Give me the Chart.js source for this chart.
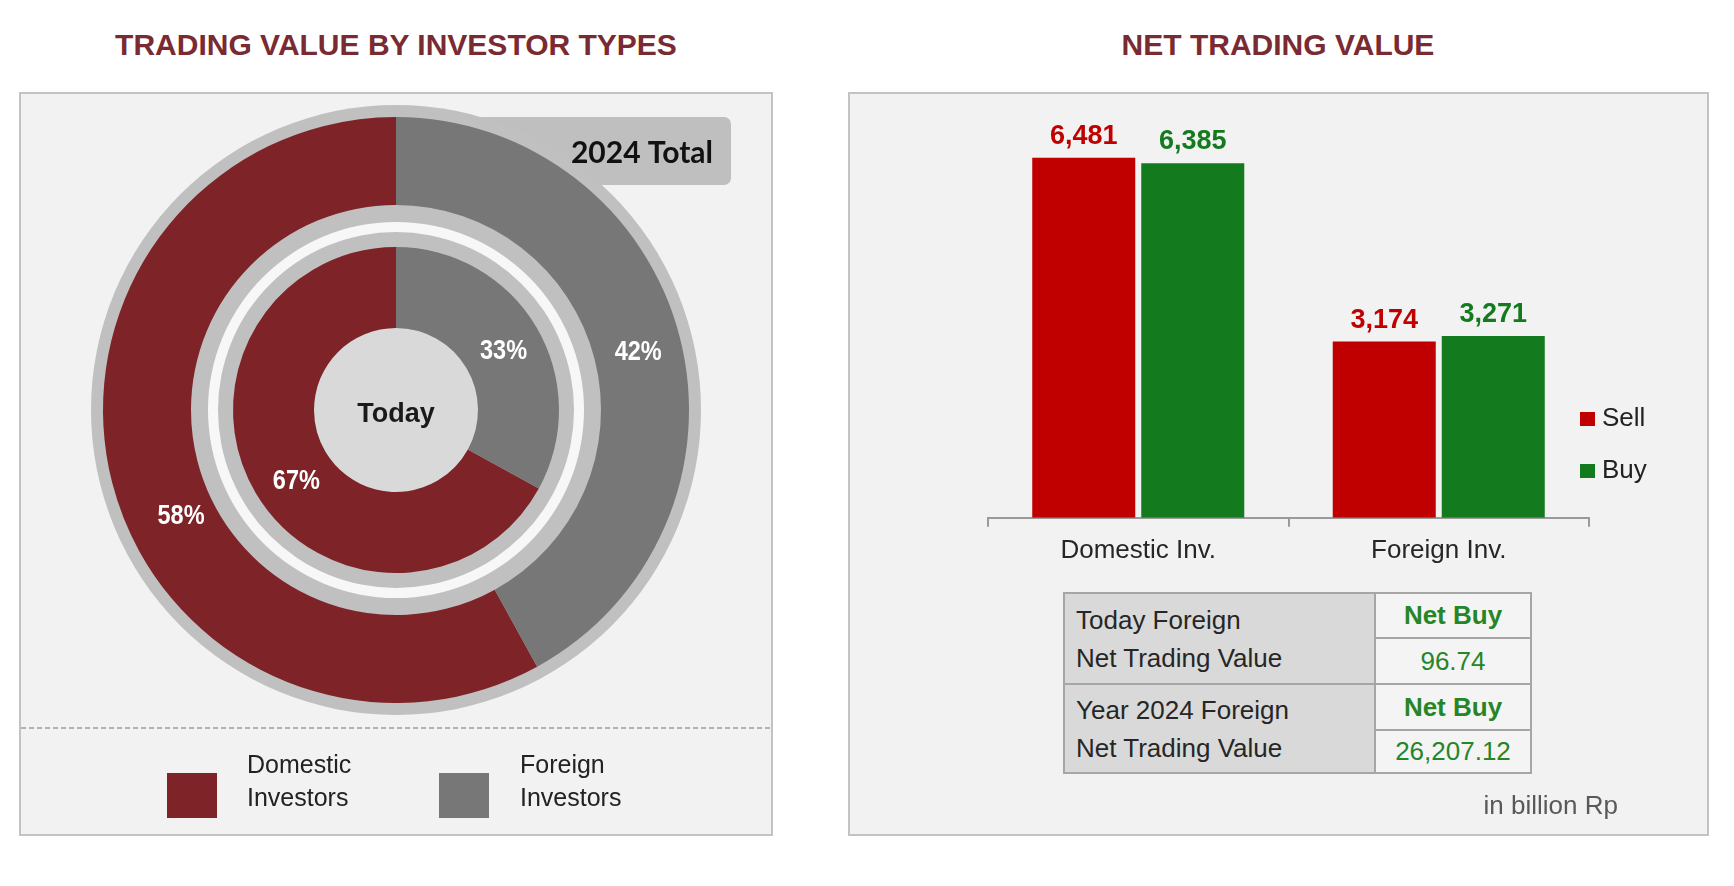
<!DOCTYPE html>
<html>
<head>
<meta charset="utf-8">
<title>Trading value</title>
<script src="https://cdn.jsdelivr.net/npm/chart.js"></script>
<style>
  body { margin: 0; background: #fff; font-family: "Liberation Sans", Arial, sans-serif; }
  #page { position: relative; width: 1734px; height: 886px; overflow: hidden; }
  .title { position: absolute; top: 27px; width: 600px; text-align: center; font-weight: bold;
           font-size: 30px; line-height: 36px; color: #7a2a31; }
  .panel { position: absolute; top: 92px; height: 744px; box-sizing: border-box;
           border: 2px solid #c3c3c3; background: #f2f2f2; }
  canvas { position: absolute; top: 92px; }
  .dash { position: absolute; left: 21px; top: 727px; width: 750px; height: 2px;
          background: repeating-linear-gradient(90deg, #b3b3b3 0 5px, transparent 5px 8px); }
  .sw { position: absolute; }
  .lg { position: absolute; font-size: 25px; line-height: 33px; color: #222; }
  .lg2 { position: absolute; font-size: 26px; line-height: 30px; color: #222; }
  #tbl { position: absolute; left: 1063px; top: 592px; width: 469px; height: 182px; background: #a6a6a6; }
  #tbl div { position: absolute; display: flex; align-items: center; box-sizing: border-box; font-size: 26px; }
  .lc { background: #d9d9d9; color: #262626; padding-left: 11px; line-height: 38px; }
  .rc { background: #f4f4f4; color: #268526; justify-content: center; }
  .unit { position: absolute; left: 1418px; top: 790px; width: 200px; text-align: right;
          font-size: 26px; line-height: 30px; color: #595959; }
</style>
</head>
<body>
<div id="page">
  <div class="title" style="left:96px">TRADING VALUE BY INVESTOR TYPES</div>
  <div class="title" style="left:978px">NET TRADING VALUE</div>

  <div class="panel" style="left:19px; width:754px"></div>
  <div class="panel" style="left:848px; width:861px"></div>

  <canvas id="donut" width="754" height="744" style="left:19px"></canvas>
  <canvas id="bars" width="861" height="744" style="left:848px"></canvas>

  <div class="dash"></div>
  <div class="sw" id="sw0" style="left:167px; top:773px; width:50px; height:45px"></div>
  <div class="lg" id="lg0" style="left:247px; top:748px"></div>
  <div class="sw" id="sw1" style="left:439px; top:773px; width:50px; height:45px"></div>
  <div class="lg" id="lg1" style="left:520px; top:748px"></div>

  <div class="sw" id="sw2" style="left:1580px; top:412px; width:15px; height:14px"></div>
  <div class="lg2" id="lg2" style="left:1602px; top:402px"></div>
  <div class="sw" id="sw3" style="left:1580px; top:464px; width:15px; height:14px"></div>
  <div class="lg2" id="lg3" style="left:1602px; top:454px"></div>

  <div id="tbl">
    <div class="lc" id="t0" style="left:2px; top:2px; width:309px; height:89px"></div>
    <div class="rc" id="t1" style="left:313px; top:2px; width:154px; height:43px; font-weight:bold"></div>
    <div class="rc" id="t2" style="left:313px; top:47px; width:154px; height:44px"></div>
    <div class="lc" id="t3" style="left:2px; top:93px; width:309px; height:87px"></div>
    <div class="rc" id="t4" style="left:313px; top:93px; width:154px; height:44px; font-weight:bold"></div>
    <div class="rc" id="t5" style="left:313px; top:139px; width:154px; height:41px"></div>
  </div>
  <div class="unit">in billion Rp</div>
</div>

<script>
// investor split, share of trading value in %
const investorTypes = ['Domestic Investors', 'Foreign Investors'];
const yearShare = [58, 42];   // outer ring, 2024 total
const todayShare = [67, 33];  // inner ring, today

// net trading value, billion Rp
const flowCategories = ['Domestic Inv.', 'Foreign Inv.'];
const flowSeries = ['Sell', 'Buy'];
const sellValues = [6481, 3174];
const buyValues = [6385, 3271];

// foreign net summary table
const summaryLabels = ['Today Foreign<br>Net Trading Value', 'Year 2024 Foreign<br>Net Trading Value'];
const summaryStatus = ['Net Buy', 'Net Buy'];
const summaryValues = ['96.74', '26,207.12'];

const investorColors = ['#7e2327', '#777777'];
const flowColors = ['#c00000', '#137a1e'];

Chart.defaults.font.family = '"Liberation Sans", Arial, sans-serif';
Chart.defaults.color = '#262626';

// html legends + table
document.getElementById('sw0').style.background = investorColors[0];
document.getElementById('sw1').style.background = investorColors[1];
document.getElementById('lg0').innerHTML = investorTypes[0].replace(' ', '<br>');
document.getElementById('lg1').innerHTML = investorTypes[1].replace(' ', '<br>');
document.getElementById('sw2').style.background = flowColors[0];
document.getElementById('sw3').style.background = flowColors[1];
document.getElementById('lg2').textContent = flowSeries[0];
document.getElementById('lg3').textContent = flowSeries[1];
document.getElementById('t0').innerHTML = summaryLabels[0];
document.getElementById('t1').textContent = summaryStatus[0];
document.getElementById('t2').textContent = summaryValues[0];
document.getElementById('t3').innerHTML = summaryLabels[1];
document.getElementById('t4').textContent = summaryStatus[1];
document.getElementById('t5').textContent = summaryValues[1];

function total(arr) { return arr.reduce((a, b) => a + b, 0); }

function disc(c, x, y, r, color) {
    c.beginPath();
    c.arc(x, y, r, 0, Math.PI * 2);
    c.fillStyle = color;
    c.fill();
}

// label nudges (degrees along the ring, px inward), excel puts them a bit off-centre
const labelShift = { 0: [[-12, 9], [1, 0]], 2: [[-5, 0], [2, 0]] };

// shadow ring, band between the rings, centre disc, badge and labels
const ringDecor = {
    id: 'ringDecor',
    beforeDatasetsDraw(chart) {
        const c = chart.ctx;
        const outer = chart.getDatasetMeta(0).data[0];
        const gap = chart.getDatasetMeta(1).data[0];
        const inner = chart.getDatasetMeta(2).data[0];
        c.save();
        c.fillStyle = '#bfbfbf';
        c.beginPath();
        c.roundRect(451, 25, 261, 68, 7);
        c.fill();
        disc(c, outer.x, outer.y, outer.outerRadius + 12, '#c0c0c0');
        disc(c, outer.x, outer.y, gap.innerRadius + 25, '#f7f7f7');
        disc(c, outer.x, outer.y, gap.innerRadius + 15, '#c0c0c0');
        disc(c, outer.x, outer.y, inner.innerRadius, '#d9d9d9');
        c.restore();
    },
    afterDatasetsDraw(chart) {
        const c = chart.ctx;
        c.save();
        c.textAlign = 'center';
        c.textBaseline = 'middle';
        c.fillStyle = '#ffffff';
        c.font = 'bold 28px "Liberation Sans", Arial, sans-serif';
        [0, 2].forEach(i => {
            const ds = chart.data.datasets[i];
            chart.getDatasetMeta(i).data.forEach((arc, j) => {
                const sh = labelShift[i][j];
                const a = (arc.startAngle + arc.endAngle) / 2 + sh[0] * Math.PI / 180;
                const r = (arc.innerRadius + arc.outerRadius) / 2 - sh[1];
                c.save();
                c.translate(arc.x + Math.cos(a) * r, arc.y + Math.sin(a) * r);
                c.scale(0.84, 1);  // narrow face
                c.fillText(Math.round(ds.data[j] / total(ds.data) * 100) + '%', 0, 0);
                c.restore();
            });
        });
        const ctr = chart.getDatasetMeta(0).data[0];
        c.fillStyle = '#1a1a1a';
        c.textBaseline = 'alphabetic';
        c.font = 'bold 27px "Liberation Sans", Arial, sans-serif';
        c.fillText(chart.data.datasets[2].label, ctr.x, ctr.y + 12);
        c.textAlign = 'right';
        c.fillStyle = '#111';
        c.font = 'bold 30px Lato, "Liberation Sans", sans-serif';
        c.fillText(chart.data.datasets[0].label, 694, 71);
        c.restore();
    }
};

new Chart(document.getElementById('donut'), {
    type: 'doughnut',
    data: {
        labels: investorTypes,
        datasets: [
            {
                label: '2024 Total',
                data: yearShare,
                backgroundColor: investorColors,
                borderWidth: 0,
                weight: 88,
                rotation: -360 * yearShare[0] / total(yearShare)
            },
            {
                label: '',
                data: [1],
                backgroundColor: 'rgba(0,0,0,0)',
                borderWidth: 0,
                weight: 42
            },
            {
                label: 'Today',
                data: todayShare,
                backgroundColor: investorColors,
                borderWidth: 0,
                weight: 81,
                rotation: -360 * todayShare[0] / total(todayShare)
            }
        ]
    },
    options: {
        responsive: false,
        animation: false,
        cutout: 82,
        hoverOffset: 0,
        layout: { padding: { left: 84, right: 84, top: 25, bottom: 133 } },
        plugins: { legend: { display: false }, tooltip: { enabled: false } }
    },
    plugins: [ringDecor]
});

// numbers above the bars
const barValues = {
    id: 'barValues',
    afterDatasetsDraw(chart) {
        const c = chart.ctx;
        c.save();
        c.textAlign = 'center';
        c.textBaseline = 'alphabetic';
        c.font = 'bold 27px "Liberation Sans", Arial, sans-serif';
        chart.data.datasets.forEach((ds, i) => {
            c.fillStyle = ds.backgroundColor;
            chart.getDatasetMeta(i).data.forEach((bar, j) => {
                c.fillText(ds.data[j].toLocaleString('en-US'), bar.x, bar.y - 14);
            });
        });
        c.restore();
    }
};

new Chart(document.getElementById('bars'), {
    type: 'bar',
    data: {
        labels: flowCategories,
        datasets: [
            { label: flowSeries[0], data: sellValues, backgroundColor: flowColors[0],
              categoryPercentage: 0.7255, barPercentage: 0.945 },
            { label: flowSeries[1], data: buyValues, backgroundColor: flowColors[1],
              categoryPercentage: 0.7255, barPercentage: 0.945 }
        ]
    },
    options: {
        responsive: false,
        animation: false,
        layout: { padding: { left: 140, right: 120, top: 37, bottom: 262 } },
        scales: {
            x: {
                grid: { display: true, drawOnChartArea: false, drawTicks: true, tickLength: 9,
                        color: '#9a9a9a', lineWidth: 2, offset: true },
                border: { display: true, color: '#9a9a9a', width: 2 },
                ticks: { color: '#262626', font: { size: 26 }, padding: 8 }
            },
            y: { display: false, min: 0, max: 7000 }
        },
        plugins: { legend: { display: false }, tooltip: { enabled: false } }
    },
    plugins: [barValues]
});
</script>
</body>
</html>
